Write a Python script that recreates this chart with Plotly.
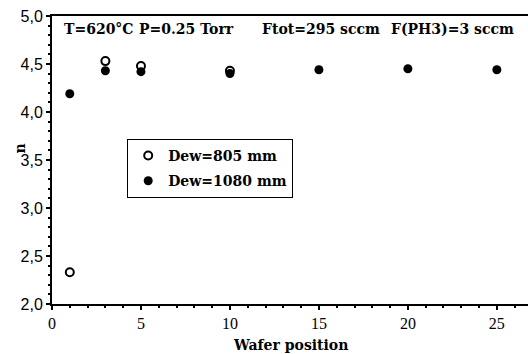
import plotly.graph_objects as go

# Data
positions_805 = [1, 3, 5, 10]
n_805 = [2.33, 4.53, 4.48, 4.43]
positions_1080 = [1, 3, 5, 10, 15, 20, 25]
n_1080 = [4.19, 4.43, 4.42, 4.40, 4.44, 4.45, 4.44]

y_ticks = [2.0, 2.5, 3.0, 3.5, 4.0, 4.5, 5.0]
y_ticktext = ["2,0", "2,5", "3,0", "3,5", "4,0", "4,5", "5,0"]
x_ticks = [0, 5, 10, 15, 20, 25]

cond_labels = ["T=620°C", "P=0.25 Torr", "Ftot=295 sccm", "F(PH3)=3 sccm"]
cond_xpos = [0.021, 0.179, 0.437, 0.708]

serif_b = "DejaVu Serif, Liberation Serif, serif"
serif = "Liberation Serif, Times New Roman, serif"
sans = "Liberation Sans, Arial, sans-serif"

fig = go.Figure()
fig.add_trace(go.Scatter(
    x=positions_805, y=n_805, mode="markers", name="<b>Dew=805 mm</b>", legendgroup="a",
    marker=dict(symbol="circle-open", size=8, color="black", line=dict(width=2, color="black")),
))
fig.add_trace(go.Scatter(
    x=positions_1080, y=n_1080, mode="markers", name="<b>Dew=1080 mm</b>", legendgroup="b",
    marker=dict(symbol="circle", size=9, color="black"),
))

annotations = []
for txt, xp in zip(cond_labels, cond_xpos):
    annotations.append(dict(
        text="<b>" + txt + "</b>", x=xp, y=0.99, xref="paper", yref="paper",
        xanchor="left", yanchor="top", showarrow=False,
        font=dict(family=serif_b, size=14, color="black"),
    ))
annotations.append(dict(
    text="<b>Wafer position</b>", x=0.5, y=-0.142, xref="paper", yref="paper",
    xanchor="center", yanchor="middle", showarrow=False,
    font=dict(family=serif_b, size=14, color="black"),
))
annotations.append(dict(
    text="<b>n</b>", x=-0.067, y=0.54, xref="paper", yref="paper",
    xanchor="center", yanchor="middle", showarrow=False, textangle=-90,
    font=dict(family=serif_b, size=14, color="black"),
))

fig.update_layout(
    width=528, height=354,
    margin=dict(l=52, r=0, t=16, b=50),
    paper_bgcolor="white", plot_bgcolor="white",
    showlegend=True,
    legend=dict(
        x=0.158, y=0.573, xanchor="left", yanchor="top",
        bordercolor="black", borderwidth=1, bgcolor="white",
        font=dict(family=serif_b, size=14, color="black"),
        itemsizing="trace", tracegroupgap=4,
    ),
    xaxis=dict(
        range=[0, 26.75], tickvals=x_ticks, showgrid=False, zeroline=False, automargin=False,
        showline=True, linecolor="black", linewidth=2, mirror=True,
        ticks="outside", ticklen=4, tickwidth=1.5, tickcolor="black",
        minor=dict(dtick=1, ticks="outside", ticklen=2, tickcolor="black"),
        tickfont=dict(family=serif, size=16, color="black"),
    ),
    yaxis=dict(
        range=[2.0, 5.0], tickvals=y_ticks, ticktext=y_ticktext, showgrid=False, zeroline=False,
        automargin=False,
        showline=True, linecolor="black", linewidth=2,
        ticks="outside", ticklen=4, tickwidth=1.5, tickcolor="black",
        minor=dict(dtick=0.1, ticks="outside", ticklen=2, tickcolor="black"),
        tickfont=dict(family=sans, size=16, color="black"),
    ),
    annotations=annotations,
)

fig.write_html("out.html", config={"displayModeBar": False},
               post_script="document.body.style.margin='0';")
